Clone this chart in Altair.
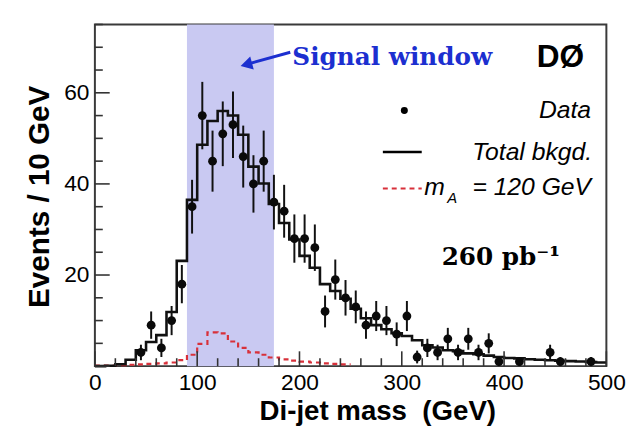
import altair as alt
import pandas as pd

# ---------------- data ----------------
# Data points: bin centres (GeV), events, errors
data_mass = [45, 55, 65, 75, 85, 95, 105, 115, 125, 135, 145, 155, 165, 175, 185,
             195, 205, 215, 225, 235, 245, 255, 265, 275, 285, 295, 305, 315, 325,
             335, 345, 355, 365, 375, 385, 395, 415, 445, 455, 485]
data_events = [3, 9, 4, 10, 18, 35, 55, 45, 51, 53, 46, 40, 45, 36, 34,
               28, 28, 26, 12, 19, 15, 13, 9, 11, 10, 7, 11, 2, 4,
               3, 6, 3, 6, 3, 5, 1, 1, 3, 1, 1]
data_err = [1.7, 3.0, 2.0, 3.2, 4.2, 5.9, 7.4, 6.7, 7.1, 7.3, 6.8, 6.3, 6.7, 6.0, 5.8,
            5.3, 5.3, 5.1, 3.5, 4.4, 3.9, 3.6, 3.0, 3.3, 3.2, 2.6, 3.3, 1.4, 2.0,
            1.7, 2.4, 1.7, 2.4, 1.7, 2.2, 1.0, 1.0, 1.7, 1.0, 1.0]

# Total background histogram, 10 GeV bins from 0 to 500
bkg_edges = [0, 10, 20, 30, 40, 50, 60, 70, 80, 90, 100, 110, 120, 130, 140, 150, 160,
             170, 180, 190, 200, 210, 220, 230, 240, 250, 260, 270, 280, 290, 300,
             310, 320, 330, 340, 350, 360, 370, 380, 390, 400, 410, 420, 430, 440,
             450, 460, 470, 480, 490, 500]
bkg_events = [0.0, 0.1, 0.4, 1.4, 3.5, 5.3, 6.8, 11.9, 23.1, 36.5, 48.6, 53.8, 56.0,
              55.0, 50.8, 43.8, 40.1, 35.6, 31.4, 27.8, 24.2, 21.6, 18.0, 16.5, 14.8,
              12.6, 10.5, 9.0, 8.1, 7.2, 6.6, 5.7, 4.6, 4.1, 3.5, 3.3, 2.8, 2.6, 2.3,
              2.0, 1.8, 1.7, 1.5, 1.4, 1.3, 1.2, 1.1, 1.0, 0.9, 0.8]

# Signal m_A = 120 GeV histogram, 10 GeV bins from 0 to 250
sig_edges = [0, 10, 20, 30, 40, 50, 60, 70, 80, 90, 100, 110, 120, 130, 140, 150, 160,
             170, 180, 190, 200, 210, 220, 230, 240, 250]
sig_events = [0.1, 0.1, 0.2, 0.3, 0.4, 0.5, 0.6, 0.8, 1.3, 2.5, 4.9, 7.4, 7.2, 5.4,
              4.0, 3.0, 2.5, 1.9, 1.5, 1.2, 1.0, 0.8, 0.6, 0.5, 0.4]

# Signal window (GeV)
window_lo = [90]
window_hi = [175]

# Axis ticks
x_major = [0, 100, 200, 300, 400, 500]
x_minor = [20, 40, 60, 80, 120, 140, 160, 180, 220, 240, 260, 280, 320, 340, 360,
           380, 420, 440, 460, 480]
y_major = [0, 20, 40, 60]
y_minor = [5, 10, 15, 25, 30, 35, 45, 50, 55, 65, 70, 75]

W, H = 518, 346
XD, YD = [0, 500], [0, 75]

# ---------------- tables ----------------
pts = pd.DataFrame({"x": data_mass, "y": data_events,
                    "lo": [v - e for v, e in zip(data_events, data_err)],
                    "hi": [v + e for v, e in zip(data_events, data_err)]})
bkg = pd.DataFrame({"x": bkg_edges, "y": bkg_events + [bkg_events[-1]]})
sig = pd.DataFrame({"x": sig_edges, "y": sig_events + [sig_events[-1]]})
win = pd.DataFrame({"x": window_lo, "x2": window_hi})

xs = alt.Scale(domain=XD, nice=False, zero=False)
ys = alt.Scale(domain=YD, nice=False, zero=False)

SANS = "Liberation Sans"
SERIF = "DejaVu Serif"

xaxis = alt.Axis(values=x_major, ticks=False, domain=False, grid=False,
                 labelFont=SANS, labelFontSize=23, labelColor="#000",
                 labelPadding=6, labelFlush=False, labelOverlap=False,
                 title="Di-jet mass\u00a0\u00a0(GeV)", titleFont=SANS, titleFontSize=28,
                 titleFontWeight="bold", titleColor="#000",
                 titleX=286, titleY=54, titleAlign="center", titleBaseline="alphabetic",
                 titleAnchor="start")
yaxis = alt.Axis(values=[20, 40, 60], ticks=False, domain=False, grid=False,
                 labelFont=SANS, labelFontSize=23, labelColor="#000", labelPadding=6,
                 title="Events / 10 GeV", titleFont=SANS, titleFontSize=30,
                 titleFontWeight="bold", titleColor="#000", titleAngle=-90,
                 titleX=-47, titleY=174, titleAlign="center", titleBaseline="alphabetic",
                 titleAnchor="start")

X = alt.X("x:Q", scale=xs, axis=xaxis)
Y = alt.Y("y:Q", scale=ys, axis=yaxis)

shade = alt.Chart(win).mark_rect(color="#c9c9f2").encode(
    x=X, x2="x2:Q", y=alt.value(0), y2=alt.value(H))

bkg_line = alt.Chart(bkg).mark_line(interpolate="step-after", color="#111111",
                                    strokeWidth=2.6).encode(x=X, y=Y)
sig_line = alt.Chart(sig).mark_line(interpolate="step-after", color="#d8303a",
                                    strokeWidth=2.2, strokeDash=[5, 4]).encode(x=X, y=Y)
err = alt.Chart(pts).mark_rule(color="#111111", strokeWidth=2).encode(
    x=X, y=alt.Y("lo:Q", scale=ys), y2="hi:Q")
dots = alt.Chart(pts).mark_circle(color="#0a0a0a", size=80, opacity=1).encode(x=X, y=Y)

# inward ticks
def xticks(vals, L):
    return alt.Chart(pd.DataFrame({"x": vals})).mark_rule(color="#333", strokeWidth=1.6).encode(
        x=X, y=alt.value(H), y2=alt.value(H - L))

def yticks(vals, L):
    return alt.Chart(pd.DataFrame({"y": vals})).mark_rule(color="#333", strokeWidth=1.6).encode(
        y=Y, x=alt.value(0), x2=alt.value(L))

# annotations (positions in data units)
def txt(t, x, y, **kw):
    return alt.Chart(pd.DataFrame({"x": [x], "y": [y], "t": [t]})).mark_text(**kw).encode(
        x=X, y=Y, text="t:N")

BLUE = "#1c2fd0"
sig_txt = txt("Signal window", 193, 66.1, font=SERIF, fontSize=25, fontWeight="bold",
              color=BLUE, align="left", baseline="alphabetic")
arrow_line = alt.Chart(pd.DataFrame({"x": [191], "y": [68.9], "x2": [149], "y2": [66.3]})).mark_rule(
    color=BLUE, strokeWidth=3).encode(x=X, y=Y, x2="x2:Q", y2="y2:Q")
arrow_head = alt.Chart(pd.DataFrame({"x": [148], "y": [66.2]})).mark_point(
    shape="triangle-up", filled=True, color=BLUE, opacity=1, size=190, angle=255).encode(x=X, y=Y)
d0 = txt("DØ", 432, 65.7, font=SANS, fontSize=32, fontWeight="bold", color="#000",
         align="left", baseline="alphabetic")

leg_dot = alt.Chart(pd.DataFrame({"x": [302.5], "y": [56.1]})).mark_circle(
    color="#000", size=50, opacity=1).encode(x=X, y=Y)
leg_data = txt("Data", 485, 54.4, font=SANS, fontSize=25, fontStyle="italic", color="#000",
               align="right", baseline="alphabetic")
leg_bline = alt.Chart(pd.DataFrame({"x": [281.5], "x2": [319.5], "y": [47.0]})).mark_rule(
    color="#000", strokeWidth=2.6).encode(x=X, x2="x2:Q", y=Y)
leg_btxt = txt("Total bkgd.", 486, 45.3, font=SANS, fontSize=25, fontStyle="italic",
               color="#000", align="right", baseline="alphabetic")
leg_sline = alt.Chart(pd.DataFrame({"x": [281.5], "x2": [319.5], "y": [39.0]})).mark_rule(
    color="#d8303a", strokeWidth=2.2, strokeDash=[5, 4]).encode(x=X, x2="x2:Q", y=Y)
leg_m = txt("m", 322, 37.5, font=SANS, fontSize=25, fontStyle="italic", color="#000",
            align="left", baseline="alphabetic")
leg_a = txt("A", 344.5, 35.8, font=SANS, fontSize=15, fontStyle="italic", color="#000",
            align="left", baseline="alphabetic")
leg_rest = txt("= 120 GeV", 485, 37.5, font=SANS, fontSize=25, fontStyle="italic",
               color="#000", align="right", baseline="alphabetic")
lumi = txt("260 pb⁻¹", 339, 22.3, font=SERIF, fontSize=25, fontWeight="bold",
           color="#000", align="left", baseline="alphabetic")

chart = alt.layer(
    shade, sig_line, bkg_line, err, dots,
    xticks(x_major, 15), xticks(x_minor, 8), yticks(y_major, 15), yticks(y_minor, 8),
    arrow_line, arrow_head, sig_txt, d0,
    leg_dot, leg_data, leg_bline, leg_btxt, leg_sline, leg_m, leg_a, leg_rest, lumi,
).properties(
    width=W, height=H, autosize="none",
    padding={"left": 88, "top": 14, "right": 30, "bottom": 62},
    background="white",
).configure_view(stroke="#3a3a3a", strokeWidth=2)

chart.save("out.html", embed_options={"renderer": "svg", "actions": False})
